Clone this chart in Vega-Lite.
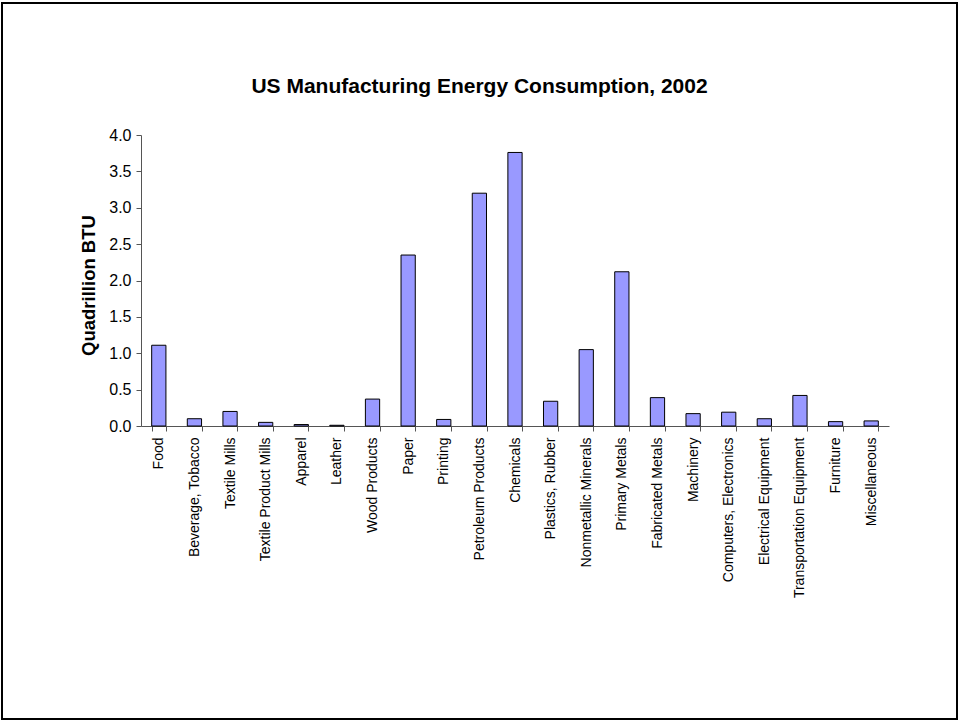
{
  "$schema": "https://vega.github.io/schema/vega-lite/v6.json",
  "autosize": {"type": "none"},
  "padding": {"left": 2, "top": 3, "right": 2, "bottom": 2},
  "width": 955,
  "height": 716,
  "background": "white",
  "config": {
    "view": {"stroke": "black", "strokeWidth": 2},
    "font": "Liberation Sans"
  },
  "title": {
    "text": "US Manufacturing Energy Consumption, 2002",
    "font": "Liberation Sans",
    "fontSize": 21,
    "fontWeight": "bold",
    "color": "black",
    "anchor": "middle",
    "frame": "group",
    "baseline": "alphabetic",
    "offset": -111
  },
  "data": {
    "values": [
      {"sector": "Food", "btu": 1.11},
      {"sector": "Beverage, Tobacco", "btu": 0.10},
      {"sector": "Textile Mills", "btu": 0.20},
      {"sector": "Textile Product Mills", "btu": 0.05},
      {"sector": "Apparel", "btu": 0.02},
      {"sector": "Leather", "btu": 0.01},
      {"sector": "Wood Products", "btu": 0.37},
      {"sector": "Paper", "btu": 2.35},
      {"sector": "Printing", "btu": 0.09},
      {"sector": "Petroleum Products", "btu": 3.20},
      {"sector": "Chemicals", "btu": 3.76},
      {"sector": "Plastics, Rubber", "btu": 0.34},
      {"sector": "Nonmetallic Minerals", "btu": 1.05},
      {"sector": "Primary Metals", "btu": 2.12},
      {"sector": "Fabricated Metals", "btu": 0.39},
      {"sector": "Machinery", "btu": 0.17},
      {"sector": "Computers, Electronics", "btu": 0.19},
      {"sector": "Electrical Equipment", "btu": 0.10},
      {"sector": "Transportation Equipment", "btu": 0.42},
      {"sector": "Furniture", "btu": 0.06},
      {"sector": "Miscellaneous", "btu": 0.07}
    ]
  },
  "mark": {"type": "bar", "fill": "#9999FF", "stroke": "black", "strokeWidth": 1},
  "encoding": {
    "x": {
      "field": "sector",
      "type": "nominal",
      "sort": null,
      "scale": {"range": [139, 887], "paddingInner": 0.6, "paddingOuter": 0.3},
      "axis": {
        "title": null,
        "orient": "bottom",
        "offset": -293,
        "tickBand": "extent",
        "tickSize": 5,
        "tickColor": "#555",
        "domainColor": "#555",
        "labelAngle": -90,
        "labelAlign": "right",
        "labelBaseline": "middle",
        "labelPadding": 6,
        "labelFontSize": 14,
        "labelColor": "black",
        "labelFont": "Liberation Sans",
        "labelOverlap": false,
        "labelLimit": 300
      }
    },
    "y": {
      "field": "btu",
      "type": "quantitative",
      "scale": {"domain": [0, 4], "range": [423, 132], "nice": false, "zero": true},
      "axis": {
        "title": "Quadrillion BTU",
        "titleFont": "Liberation Sans",
        "titleFontSize": 18.5,
        "titleFontWeight": "bold",
        "titleColor": "black",
        "titlePadding": 10,
        "titleY": 282,
        "orient": "left",
        "offset": -139,
        "values": [0, 0.5, 1, 1.5, 2, 2.5, 3, 3.5, 4],
        "format": ".1f",
        "grid": false,
        "tickSize": 5,
        "tickColor": "#555",
        "domainColor": "#555",
        "labelPadding": 5,
        "labelFontSize": 16,
        "labelColor": "black",
        "labelFont": "Liberation Sans"
      }
    }
  }
}
